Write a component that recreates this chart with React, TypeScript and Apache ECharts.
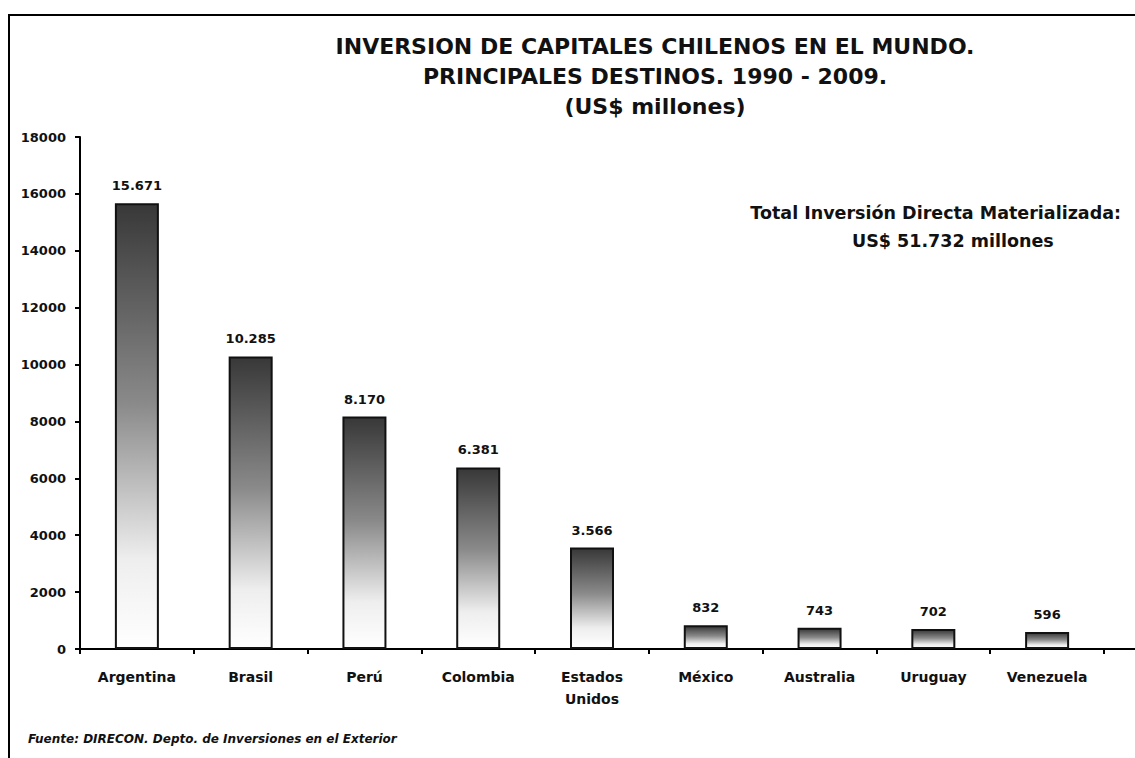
import React, { useEffect, useRef } from "react";
import * as echarts from "echarts";

const categories = ["Argentina", "Brasil", "Perú", "Colombia", "Estados\nUnidos", "México", "Australia", "Uruguay", "Venezuela"];
const values = [15671, 10285, 8170, 6381, 3566, 832, 743, 702, 596];
const valueLabels = ["15.671", "10.285", "8.170", "6.381", "3.566", "832", "743", "702", "596"];
const yTicks = { min: 0, max: 18000, interval: 2000 };
const titleLines = ["INVERSION DE CAPITALES CHILENOS EN EL MUNDO.", "PRINCIPALES DESTINOS. 1990 - 2009.", "(US$ millones)"];
const noteLines = ["Total Inversión Directa Materializada:", "US$ 51.732 millones"];
const sourceText = "Fuente: DIRECON. Depto. de Inversiones en el Exterior";

const FONT = "'DejaVu Sans', Verdana, sans-serif";

export default function App() {
  const ref = useRef<HTMLDivElement>(null);
  useEffect(() => {
    document.body.style.margin = "0";
    const chart = echarts.init(ref.current!, null, { renderer: "svg" });
    const barGradient = new echarts.graphic.LinearGradient(0, 0, 0, 1, [
      { offset: 0, color: "#383838" },
      { offset: 0.45, color: "#8a8a8a" },
      { offset: 0.8, color: "#eeeeee" },
      { offset: 1, color: "#ffffff" },
    ]);
    chart.setOption({
      animation: false,
      backgroundColor: "#ffffff",
      textStyle: { fontFamily: FONT },
      grid: { left: 80, right: 31, top: 137, bottom: 109 },
      xAxis: {
        type: "category",
        data: categories,
        boundaryGap: true,
        axisLine: { lineStyle: { color: "#000", width: 2 } },
        axisTick: { show: true, length: 5, inside: false, lineStyle: { color: "#000", width: 2 } },
        axisLabel: {
          color: "#111",
          fontWeight: "bold",
          fontSize: 14,
          fontFamily: FONT,
          margin: 17,
          lineHeight: 22,
          interval: 0,
          verticalAlign: "top",
        },
      },
      yAxis: {
        type: "value",
        min: yTicks.min,
        max: yTicks.max,
        interval: yTicks.interval,
        splitLine: { show: false },
        axisLine: { show: true, lineStyle: { color: "#000", width: 2 } },
        axisTick: { show: true, length: 5, lineStyle: { color: "#000", width: 2 } },
        axisLabel: {
          color: "#111",
          fontWeight: "bold",
          fontSize: 13,
          fontFamily: FONT,
          margin: 14,
          formatter: (v: number) => String(v),
        },
      },
      series: [
        {
          type: "bar",
          data: values,
          barWidth: 44,
          itemStyle: { color: barGradient, borderColor: "#111", borderWidth: 2 },
          label: {
            show: true,
            position: "top",
            distance: 11,
            color: "#111",
            fontWeight: "bold",
            fontSize: 13,
            fontFamily: FONT,
            formatter: (p: any) => valueLabels[p.dataIndex],
          },
        },
      ],
      graphic: [
        {
          type: "rect",
          shape: { x: 9, y: 15, width: 1140, height: 760 },
          style: { fill: "none", stroke: "#000", lineWidth: 2 },
          silent: true,
        },
        {
          type: "line",
          shape: { x1: 1103, y1: 649, x2: 1135, y2: 649 },
          style: { stroke: "#000", lineWidth: 2 },
        },
        ...titleLines.map((t, i) => ({
          type: "text",
          x: 655,
          y: 46 + i * 30,
          style: {
            text: t,
            fill: "#111",
            font: `bold 22px ${FONT}`,
            textAlign: "center",
            textVerticalAlign: "middle",
          },
        })),
        {
          type: "text",
          x: 1121,
          y: 213,
          style: { text: noteLines[0], fill: "#111", font: `bold 17.5px ${FONT}`, textAlign: "right", textVerticalAlign: "middle" },
        },
        {
          type: "text",
          x: 852,
          y: 241,
          style: { text: noteLines[1], fill: "#111", font: `bold 17.5px ${FONT}`, textAlign: "left", textVerticalAlign: "middle" },
        },
        {
          type: "text",
          x: 28,
          y: 739,
          style: { text: sourceText, fill: "#111", font: `italic bold 12px ${FONT}`, textAlign: "left", textVerticalAlign: "middle" },
        },
      ],
    });
    return () => chart.dispose();
  }, []);
  return <div ref={ref} style={{ width: 1135, height: 758 }} />;
}
